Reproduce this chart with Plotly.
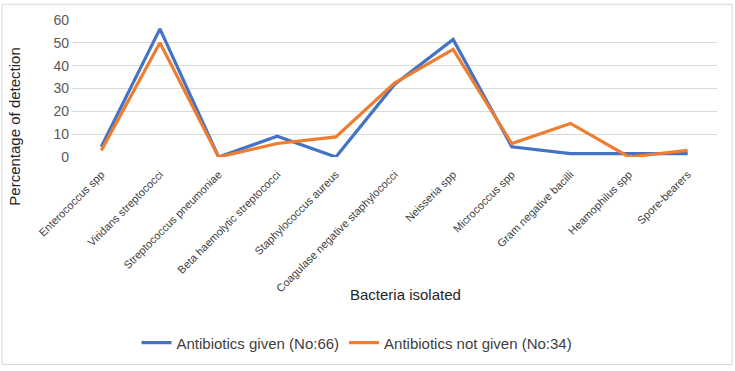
import plotly.graph_objects as go

categories = ["Enterococcus spp", "Viridans streptococci", "Streptococcus pneumoniae",
              "Beta haemolytic streptococci", "Staphylococcus aureus",
              "Coagulase negative staphylococci", "Neisseria spp", "Micrococcus spp",
              "Gram negative bacilli", "Heamophilus spp", "Spore-bearers"]
given = [4.5, 56.1, 0, 9.1, 0, 31.8, 51.5, 4.5, 1.5, 1.5, 1.5]
not_given = [2.9, 50.0, 0, 5.9, 8.8, 32.4, 47.1, 5.9, 14.7, 0, 2.9]
yticks = [0, 10, 20, 30, 40, 50, 60]

W, H = 735, 371
L, R, T, B = 72, 18, 17, 214
pw, ph = W - L - R, H - T - B

def px(x):
    return (x - L) / pw

def py(y):
    return (H - B - y) / ph

fig = go.Figure()
fig.add_trace(go.Scatter(x=categories, y=given, mode="lines", name="Antibiotics given (No:66)",
                         line=dict(color="#4472C4", width=3.2)))
fig.add_trace(go.Scatter(x=categories, y=not_given, mode="lines", name="Antibiotics not given (No:34)",
                         line=dict(color="#ED7D31", width=3.2)))

fig.update_layout(
    width=W, height=H,
    margin=dict(l=L, r=R, t=T, b=B),
    paper_bgcolor="white", plot_bgcolor="white",
    font=dict(family="Liberation Sans, Arial, sans-serif", color="#404040"),
    showlegend=True,
    legend=dict(orientation="h", x=px(357), xanchor="center", y=py(347), yanchor="middle",
                font=dict(size=15, color="#404040"), itemwidth=30, tracegroupgap=0),
    xaxis=dict(type="category", tickangle=-45, tickfont=dict(size=11, color="#404040"),
               showgrid=False, showline=False, zeroline=False, ticks="",
               ticklabelstandoff=8,
               range=[-0.5, len(categories) - 0.5]),
    yaxis=dict(range=[0, 60], tickvals=yticks, tickfont=dict(size=14, color="#595959"),
               gridcolor="#D9D9D9", gridwidth=1, zeroline=False, showline=False,
               ticklabelstandoff=2),
    annotations=[
        dict(text="Bacteria isolated", xref="paper", yref="paper", x=px(405), y=py(297),
             showarrow=False, font=dict(size=15, color="#262626"), xanchor="center", yanchor="middle"),
        dict(text="Percentage of detection", xref="paper", yref="paper", x=px(15), y=py(126),
             showarrow=False, textangle=-90, font=dict(size=15, color="#262626"),
             xanchor="center", yanchor="middle"),
    ],
    shapes=[dict(type="rect", xref="paper", yref="paper", x0=px(2), x1=px(732), y0=py(369), y1=py(1),
                 line=dict(color="#D9D9D9", width=1), fillcolor="rgba(0,0,0,0)", layer="below")],
)

fig.write_html("out.html")
